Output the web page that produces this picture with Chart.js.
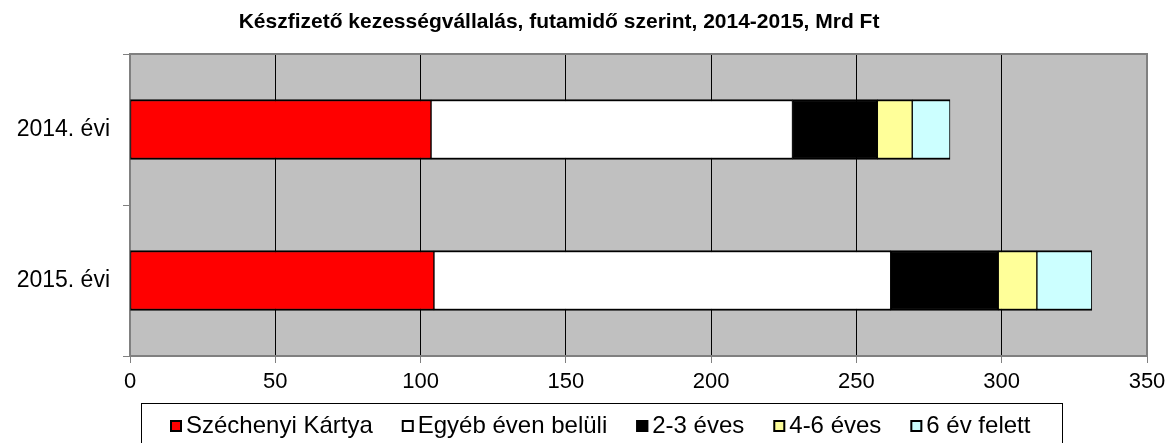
<!DOCTYPE html>
<html>
<head>
<meta charset="utf-8">
<script src="https://cdn.jsdelivr.net/npm/chart.js@4/dist/chart.umd.min.js"></script>
<style>
  html, body { margin: 0; padding: 0; background: #fff; }
  #wrap { width: 1167px; height: 443px; position: relative; }
</style>
</head>
<body>
<div id="wrap"><canvas id="c" width="1167" height="443"></canvas></div>
<script>
const titleText = 'Készfizető kezességvállalás, futamidő szerint, 2014-2015, Mrd Ft';
const categories = ['2014. évi', '2015. évi'];
const seriesNames = ['Széchenyi Kártya', 'Egyéb éven belüli', '2-3 éves', '4-6 éves', '6 év felett'];
const szechenyi = [103.6, 104.6];
const egyeb = [124.4, 157.2];
const eves23 = [29.2, 37.0];
const eves46 = [12.0, 13.3];
const felett6 = [13.0, 18.9];
const xTicks = [0, 50, 100, 150, 200, 250, 300, 350];
const seriesColors = ['#FF0000', '#FFFFFF', '#000000', '#FFFF99', '#CCFFFF'];

const FONT = '"Liberation Sans", Arial, sans-serif';
const seriesValues = [szechenyi, egyeb, eves23, eves46, felett6];

const bgPlugin = {
  id: 'bg',
  beforeDraw(chart) {
    const ctx = chart.ctx, a = chart.chartArea;
    ctx.save();
    ctx.fillStyle = '#FFFFFF';
    ctx.fillRect(0, 0, chart.width, chart.height);
    ctx.fillStyle = '#C0C0C0';
    ctx.fillRect(a.left, a.top, a.right - a.left, a.bottom - a.top);
    ctx.restore();
  },
  beforeDatasetsDraw(chart) {
    const ctx = chart.ctx, a = chart.chartArea;
    ctx.save();
    ctx.strokeStyle = '#808080';
    ctx.lineWidth = 2;
    ctx.strokeRect(a.left, a.top, a.right - a.left, a.bottom - a.top);
    ctx.restore();
  },
  afterDraw(chart) {
    const ctx = chart.ctx;
    ctx.save();
    // title
    ctx.fillStyle = '#000';
    ctx.font = 'bold 21px ' + FONT;
    ctx.textAlign = 'center';
    ctx.textBaseline = 'middle';
    ctx.fillText(titleText, 559, 22);
    // legend box
    ctx.strokeStyle = '#000';
    ctx.lineWidth = 1;
    ctx.strokeRect(141.5, 403.5, 921, 45);
    // legend items
    ctx.font = '24px ' + FONT;
    ctx.textAlign = 'left';
    ctx.textBaseline = 'middle';
    let x = 170;
    const cy = 426;
    chart.data.datasets.forEach((ds, i) => {
      ctx.fillStyle = ds.backgroundColor;
      ctx.fillRect(x, cy - 6, 12, 12);
      ctx.strokeStyle = '#000';
      ctx.lineWidth = 2;
      ctx.strokeRect(x + 1, cy - 5, 10, 10);
      ctx.fillStyle = '#000';
      ctx.fillText(ds.label, x + 16, cy);
      x += 16 + ctx.measureText(ds.label).width + 29;
    });
    ctx.restore();
  }
};

new Chart(document.getElementById('c'), {
  type: 'bar',
  data: {
    labels: categories,
    datasets: seriesNames.map((name, i) => ({
      label: name,
      data: seriesValues[i],
      backgroundColor: seriesColors[i],
      borderColor: '#000000',
      borderWidth: { top: 2, bottom: 2, left: 1, right: 1 },
      borderSkipped: false,
      barThickness: 60
    }))
  },
  options: {
    indexAxis: 'y',
    responsive: false,
    animation: false,
    devicePixelRatio: 1,
    layout: { padding: { top: 54, right: 20, bottom: 0, left: 0 } },
    plugins: {
      legend: { display: false },
      title: { display: false },
      tooltip: { enabled: false }
    },
    scales: {
      x: {
        stacked: true,
        min: 0,
        max: 350,
        afterBuildTicks(s) { s.ticks = xTicks.map(v => ({ value: v })); },
        ticks: { color: '#000', font: { size: 22, family: FONT }, padding: 6, maxRotation: 0 },
        grid: { color: '#000', lineWidth: 1, tickLength: 7, tickColor: '#808080', drawTicks: true },
        border: { display: false },
        afterFit(s) { s.height = 87; s.paddingLeft = 0; s.paddingRight = 0; }
      },
      y: {
        stacked: true,
        ticks: { color: '#000', font: { size: 23, family: FONT }, padding: 13 },
        grid: { offset: true, drawOnChartArea: false, tickLength: 7, tickColor: '#808080', drawTicks: true },
        border: { display: false },
        afterFit(s) { s.width = 130; s.paddingTop = 0; s.paddingBottom = 0; }
      }
    }
  },
  plugins: [bgPlugin]
});
</script>
</body>
</html>
